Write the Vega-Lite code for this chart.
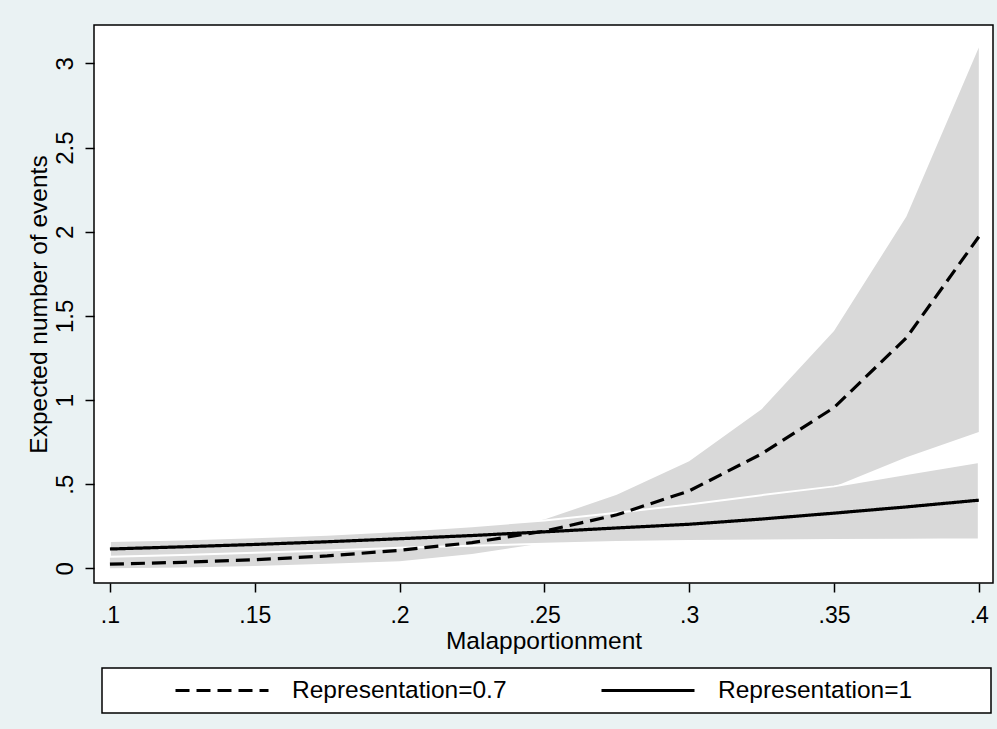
{
  "$schema": "https://vega.github.io/schema/vega-lite/v6.json",
  "width": 899,
  "height": 558,
  "autosize": {"type": "none"},
  "padding": {"left": 94, "top": 25, "right": 4, "bottom": 146},
  "background": "#EAF2F3",
  "data": {
    "values": [
      {"x": 0.1, "series": "Representation=1", "mean": 0.115, "lo": 0.069, "hi": 0.163},
      {"x": 0.125, "series": "Representation=1", "mean": 0.128, "lo": 0.080, "hi": 0.172},
      {"x": 0.15, "series": "Representation=1", "mean": 0.142, "lo": 0.092, "hi": 0.185},
      {"x": 0.175, "series": "Representation=1", "mean": 0.158, "lo": 0.106, "hi": 0.200},
      {"x": 0.2, "series": "Representation=1", "mean": 0.176, "lo": 0.122, "hi": 0.222},
      {"x": 0.225, "series": "Representation=1", "mean": 0.195, "lo": 0.134, "hi": 0.250},
      {"x": 0.25, "series": "Representation=1", "mean": 0.217, "lo": 0.146, "hi": 0.285},
      {"x": 0.275, "series": "Representation=1", "mean": 0.240, "lo": 0.156, "hi": 0.330},
      {"x": 0.3, "series": "Representation=1", "mean": 0.262, "lo": 0.163, "hi": 0.380},
      {"x": 0.325, "series": "Representation=1", "mean": 0.293, "lo": 0.166, "hi": 0.435},
      {"x": 0.35, "series": "Representation=1", "mean": 0.328, "lo": 0.168, "hi": 0.487},
      {"x": 0.375, "series": "Representation=1", "mean": 0.365, "lo": 0.170, "hi": 0.560},
      {"x": 0.4, "series": "Representation=1", "mean": 0.405, "lo": 0.173, "hi": 0.632},
      {"x": 0.1, "series": "Representation=0.7", "mean": 0.025, "lo": 0.000, "hi": 0.068},
      {"x": 0.125, "series": "Representation=0.7", "mean": 0.036, "lo": 0.005, "hi": 0.085},
      {"x": 0.15, "series": "Representation=0.7", "mean": 0.051, "lo": 0.014, "hi": 0.105},
      {"x": 0.175, "series": "Representation=0.7", "mean": 0.074, "lo": 0.027, "hi": 0.132},
      {"x": 0.2, "series": "Representation=0.7", "mean": 0.107, "lo": 0.042, "hi": 0.168},
      {"x": 0.225, "series": "Representation=0.7", "mean": 0.153, "lo": 0.085, "hi": 0.215},
      {"x": 0.25, "series": "Representation=0.7", "mean": 0.221, "lo": 0.150, "hi": 0.290},
      {"x": 0.275, "series": "Representation=0.7", "mean": 0.318, "lo": 0.215, "hi": 0.437},
      {"x": 0.3, "series": "Representation=0.7", "mean": 0.460, "lo": 0.300, "hi": 0.636},
      {"x": 0.325, "series": "Representation=0.7", "mean": 0.680, "lo": 0.400, "hi": 0.945},
      {"x": 0.35, "series": "Representation=0.7", "mean": 0.955, "lo": 0.485, "hi": 1.410},
      {"x": 0.375, "series": "Representation=0.7", "mean": 1.370, "lo": 0.660, "hi": 2.090},
      {"x": 0.4, "series": "Representation=0.7", "mean": 1.970, "lo": 0.810, "hi": 3.095}
    ]
  },
  "encoding": {
    "x": {
      "field": "x", "type": "quantitative",
      "scale": {"domain": [0.0945, 0.4049], "nice": false, "zero": false},
      "axis": {
        "title": "Malapportionment",
        "values": [0.1, 0.15, 0.2, 0.25, 0.3, 0.35, 0.4],
        "labelExpr": "replace(format(datum.value, '.2~f'), /^0\\./, '.')",
        "domain": false, "grid": false,
        "ticks": true, "tickSize": 9, "tickWidth": 1.5, "tickColor": "black",
        "labelFont": "Liberation Sans", "labelFontSize": 23, "labelColor": "black",
        "labelPadding": 12, "labelFlush": false,
        "titleFont": "Liberation Sans", "titleFontSize": 24.5, "titleFontWeight": "normal",
        "titleColor": "black", "titlePadding": 2
      }
    }
  },
  "layer": [
    {
      "transform": [{"filter": "datum.series == 'Representation=0.7'"}],
      "mark": {"type": "area", "fill": "#D9D9D9", "opacity": 1},
      "encoding": {
        "y": {"field": "lo", "type": "quantitative"},
        "y2": {"field": "hi"}
      }
    },
    {
      "transform": [{"filter": "datum.series == 'Representation=1'"}],
      "mark": {"type": "area", "fill": "#D9D9D9", "opacity": 1, "stroke": "white", "strokeWidth": 2},
      "encoding": {
        "y": {"field": "lo", "type": "quantitative"},
        "y2": {"field": "hi"}
      }
    },
    {
      "mark": {"type": "line", "color": "black", "strokeWidth": 3.2},
      "encoding": {
        "y": {
          "field": "mean", "type": "quantitative",
          "scale": {"domain": [-0.087, 3.228], "nice": false, "zero": false},
          "axis": {
            "title": "Expected number of events",
            "values": [0, 0.5, 1, 1.5, 2, 2.5, 3],
            "labelExpr": "replace(format(datum.value, '.1~f'), /^0\\./, '.')",
            "labelAngle": 270,
            "domain": false, "grid": false,
            "ticks": true, "tickSize": 9, "tickWidth": 1.5, "tickColor": "black",
            "labelFont": "Liberation Sans", "labelFontSize": 24, "labelColor": "black",
            "labelPadding": 8,
            "titleFont": "Liberation Sans", "titleFontSize": 24.5, "titleFontWeight": "normal",
            "titleColor": "black", "titlePadding": 2
          }
        },
        "strokeDash": {
          "field": "series", "type": "nominal",
          "scale": {"domain": ["Representation=0.7", "Representation=1"], "range": [[14, 7], [1, 0]]},
          "legend": {
            "orient": "none", "legendX": 8, "legendY": 643,
            "direction": "horizontal",
            "title": " ", "titleOrient": "right", "titleFontSize": 1, "titlePadding": 70,
            "padding": 9, "strokeColor": "black", "fillColor": "white",
            "symbolType": "stroke", "symbolSize": 8649, "symbolStrokeWidth": 3,
            "symbolStrokeColor": "black", "clipHeight": 27,
            "symbolOffset": 63,
            "labelFont": "Liberation Sans", "labelFontSize": 24.5, "labelColor": "black",
            "labelLimit": 600,
            "labelOffset": 22, "columnPadding": 30
          }
        }
      }
    }
  ],
  "config": {
    "view": {"stroke": "black", "strokeWidth": 1.5, "fill": "white"},
    "legend": {"strokeWidth": 1.5}
  }
}
